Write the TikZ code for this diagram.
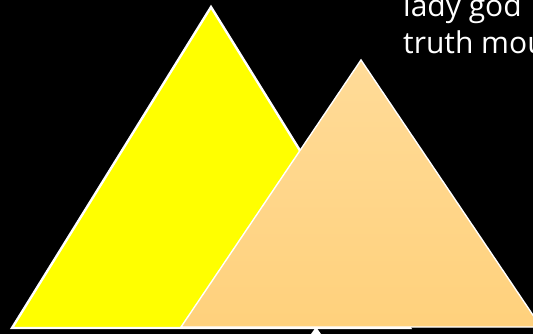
\documentclass[tikz,border=0pt]{standalone}
\usepackage{fontspec}
\setmainfont{Open Sans}
\definecolor{peakyellow}{RGB}{255,255,0}
\definecolor{sandtop}{RGB}{255,219,152}
\definecolor{sandbottom}{RGB}{255,209,124}
\begin{document}
\begin{tikzpicture}[x=1pt, y=-1pt]
     % Background
     \fill[black] (0,0) rectangle (533,334);
     \useasboundingbox (0,0) rectangle (533,334);

     % Tip of a third triangle, below the picture
     \fill[white] (316,327) -- (306,341) -- (326,341) -- cycle;

     % Yellow triangle
     \draw[white, line width=2.4pt, fill=peakyellow, line join=miter]
        (211,7) -- (410,328) -- (12,328) -- cycle;

     % Sand triangle
     \draw[white, line width=1.4pt, top color=sandtop, bottom color=sandbottom, line join=miter]
        (361,60) -- (541,327) -- (181,327) -- cycle;

     % Caption
     \node[anchor=base west, inner sep=0pt, text=white, font=\fontsize{30}{36}\selectfont] (lady) at (403,17) {lady god};
     \node[anchor=base west, inner sep=0pt, text=white, font=\fontsize{30}{36}\selectfont] (truth) at (403,54) {truth mou};

\end{tikzpicture}
\end{document}
